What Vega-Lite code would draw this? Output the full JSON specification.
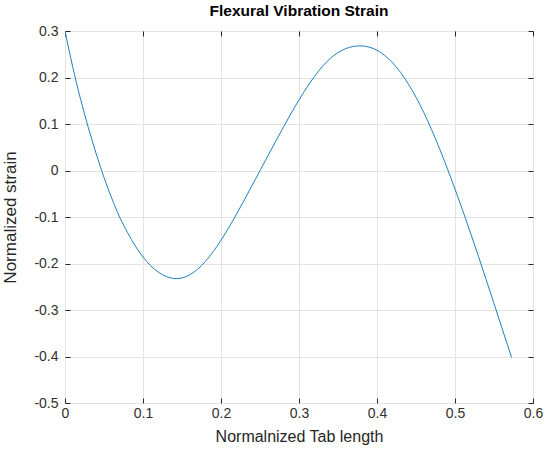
{
  "$schema": "https://vega.github.io/schema/vega-lite/v6.json",
  "autosize": "none",
  "width": 468,
  "height": 372,
  "padding": {"left": 65, "top": 31, "right": 15, "bottom": 48},
  "background": "white",
  "title": {"text": "Flexural Vibration Strain", "font": "Liberation Sans", "fontSize": 15.5, "fontWeight": "bold", "color": "#000000", "offset": 5},
  "config": {
    "view": {"stroke": "#262626", "strokeWidth": 1},
    "axis": {"labelFont": "Liberation Sans", "titleFont": "Liberation Sans", "labelFontSize": 14, "titleFontSize": 16, "labelColor": "#303030", "titleColor": "#262626", "titleFontWeight": "normal", "domain": false, "tickColor": "#262626", "gridColor": "#e3e3e3", "gridWidth": 1}
  },
  "data": {"values": [
    {"x": 0.0, "y": 0.3},
    {"x": 0.01, "y": 0.222},
    {"x": 0.02, "y": 0.153},
    {"x": 0.03, "y": 0.092},
    {"x": 0.04, "y": 0.036},
    {"x": 0.05, "y": -0.015},
    {"x": 0.06, "y": -0.06},
    {"x": 0.07, "y": -0.1},
    {"x": 0.08, "y": -0.133},
    {"x": 0.09, "y": -0.162},
    {"x": 0.1, "y": -0.186},
    {"x": 0.11, "y": -0.205},
    {"x": 0.12, "y": -0.219},
    {"x": 0.13, "y": -0.228},
    {"x": 0.1425, "y": -0.2325},
    {"x": 0.15, "y": -0.231},
    {"x": 0.16, "y": -0.2243},
    {"x": 0.17, "y": -0.2123},
    {"x": 0.18, "y": -0.1955},
    {"x": 0.19, "y": -0.1745},
    {"x": 0.2, "y": -0.15},
    {"x": 0.21, "y": -0.1228},
    {"x": 0.22, "y": -0.0935},
    {"x": 0.23, "y": -0.063},
    {"x": 0.24, "y": -0.0318},
    {"x": 0.25, "y": -0.0003},
    {"x": 0.26, "y": 0.0312},
    {"x": 0.27, "y": 0.0625},
    {"x": 0.28, "y": 0.0932},
    {"x": 0.29, "y": 0.1232},
    {"x": 0.3, "y": 0.1517},
    {"x": 0.31, "y": 0.1785},
    {"x": 0.32, "y": 0.2028},
    {"x": 0.33, "y": 0.2238},
    {"x": 0.34, "y": 0.2408},
    {"x": 0.35, "y": 0.2535},
    {"x": 0.36, "y": 0.2622},
    {"x": 0.37, "y": 0.2668},
    {"x": 0.378, "y": 0.268},
    {"x": 0.39, "y": 0.2653},
    {"x": 0.4, "y": 0.2586},
    {"x": 0.41, "y": 0.2473},
    {"x": 0.42, "y": 0.2316},
    {"x": 0.43, "y": 0.2113},
    {"x": 0.44, "y": 0.1866},
    {"x": 0.45, "y": 0.1576},
    {"x": 0.46, "y": 0.1246},
    {"x": 0.47, "y": 0.0878},
    {"x": 0.48, "y": 0.0478},
    {"x": 0.49, "y": 0.0051},
    {"x": 0.5, "y": -0.0399},
    {"x": 0.51, "y": -0.0867},
    {"x": 0.52, "y": -0.1349},
    {"x": 0.53, "y": -0.1844},
    {"x": 0.54, "y": -0.2349},
    {"x": 0.55, "y": -0.2862},
    {"x": 0.56, "y": -0.3378},
    {"x": 0.5725, "y": -0.402}
  ]},
  "layer": [
    {
      "mark": {"type": "line", "color": "#1f80c0", "strokeWidth": 1, "interpolate": "monotone", "clip": true},
      "encoding": {
        "x": {"field": "x", "type": "quantitative", "scale": {"domain": [0, 0.6], "nice": false, "zero": false},
          "axis": {"orient": "bottom", "values": [0, 0.1, 0.2, 0.3, 0.4, 0.5, 0.6], "labelExpr": "datum.value == 0 ? '0' : format(datum.value, '.1f')", "title": "Normalnized Tab length", "tickSize": -5, "labelPadding": 8, "titlePadding": 8, "grid": true, "labelFlush": false}},
        "y": {"field": "y", "type": "quantitative", "scale": {"domain": [-0.5, 0.3], "nice": false, "zero": false},
          "axis": {"orient": "left", "values": [-0.5, -0.4, -0.3, -0.2, -0.1, 0, 0.1, 0.2, 0.3], "labelExpr": "datum.value == 0 ? '0' : replace(format(datum.value, '.1f'), '\u2212', '-')", "title": "Normalized strain", "titleFontSize": 17, "tickSize": -5, "labelPadding": 12, "titlePadding": 14, "grid": true, "labelFlush": false}}
      }
    },
    {
      "mark": {"type": "line", "opacity": 0},
      "encoding": {
        "x": {"field": "x", "type": "quantitative", "axis": {"orient": "top", "values": [0, 0.1, 0.2, 0.3, 0.4, 0.5, 0.6], "labels": false, "title": null, "tickSize": -5, "grid": false}},
        "y": {"field": "y", "type": "quantitative", "axis": {"orient": "right", "values": [-0.5, -0.4, -0.3, -0.2, -0.1, 0, 0.1, 0.2, 0.3], "labels": false, "title": null, "tickSize": -5, "grid": false}}
      }
    }
  ],
  "resolve": {"axis": {"x": "independent", "y": "independent"}}
}
